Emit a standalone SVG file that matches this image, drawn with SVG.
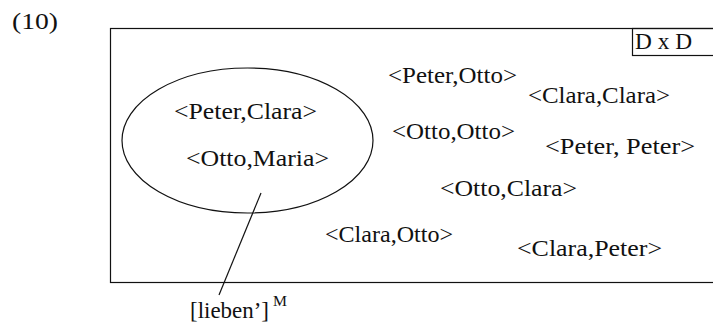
<svg xmlns="http://www.w3.org/2000/svg" width="713" height="323" viewBox="0 0 713 323">
  <style>
    .frame { fill: none; stroke: #111; stroke-width: 1.2; }
    .pair { font-family: "Liberation Serif", "Times New Roman", serif; font-size: 24px; fill: #111; }
    .lbl { font-family: "Liberation Serif", "Times New Roman", serif; font-size: 24px; fill: #111; }
    .sup { font-family: "Liberation Serif", "Times New Roman", serif; font-size: 15px; fill: #111; }
  </style>
  <rect width="713" height="323" fill="#fff"/>

  <text class="lbl" x="12" y="29" textLength="46" lengthAdjust="spacingAndGlyphs">(10)</text>

  <!-- domain D x D -->
  <g id="domain">
    <rect class="frame" x="110.5" y="28.5" width="620" height="254"/>
    <rect class="frame" x="632.5" y="28.5" width="100" height="27"/>
    <text class="lbl" x="635" y="49" textLength="57" lengthAdjust="spacingAndGlyphs">D x D</text>
  </g>

  <!-- extension of lieben' -->
  <g id="extension">
    <ellipse class="frame" cx="247.5" cy="140.5" rx="125.5" ry="72.5"/>
    <text class="pair" x="174" y="119" textLength="143" lengthAdjust="spacingAndGlyphs">&lt;Peter,Clara&gt;</text>
    <text class="pair" x="186" y="166" textLength="143" lengthAdjust="spacingAndGlyphs">&lt;Otto,Maria&gt;</text>
  </g>

  <g id="pairs">
    <text class="pair" x="388" y="83" textLength="129" lengthAdjust="spacingAndGlyphs">&lt;Peter,Otto&gt;</text>
    <text class="pair" x="528" y="103" textLength="142" lengthAdjust="spacingAndGlyphs">&lt;Clara,Clara&gt;</text>
    <text class="pair" x="392" y="139" textLength="123" lengthAdjust="spacingAndGlyphs">&lt;Otto,Otto&gt;</text>
    <text class="pair" x="545" y="154" textLength="150" lengthAdjust="spacingAndGlyphs">&lt;Peter, Peter&gt;</text>
    <text class="pair" x="440" y="196" textLength="137" lengthAdjust="spacingAndGlyphs">&lt;Otto,Clara&gt;</text>
    <text class="pair" x="325" y="242" textLength="128" lengthAdjust="spacingAndGlyphs">&lt;Clara,Otto&gt;</text>
    <text class="pair" x="517" y="256" textLength="145" lengthAdjust="spacingAndGlyphs">&lt;Clara,Peter&gt;</text>
  </g>

  <g id="connectors">
    <line class="frame" x1="261" y1="193" x2="219" y2="295"/>
  </g>

  <g id="label">
    <text class="lbl" x="190" y="318" textLength="79" lengthAdjust="spacingAndGlyphs">[lieben’]</text>
    <text class="sup" x="273" y="306" textLength="14" lengthAdjust="spacingAndGlyphs">M</text>
  </g>
</svg>
